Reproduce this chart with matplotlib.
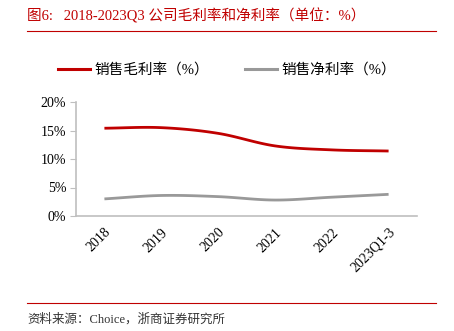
import matplotlib
matplotlib.use("Agg")
import matplotlib.pyplot as plt
import numpy as np
from matplotlib.lines import Line2D

plt.rcParams["font.family"] = ["Liberation Serif", "Noto Sans CJK SC"]

CATEGORIES = ["2018", "2019", "2020", "2021", "2022", "2023Q1-3"]
GROSS_MARGIN = [15.4, 15.5, 14.5, 12.3, 11.6, 11.4]
NET_MARGIN = [3.0, 3.6, 3.4, 2.8, 3.3, 3.8]
Y_TICKS = [0, 5, 10, 15, 20]

RED = "#C00000"
GRAY = "#999999"


def smooth(xs, ys, steps=20):
    # Catmull-Rom curve through the data points, for drawing only
    xs = np.asarray(xs, dtype=float)
    ys = np.asarray(ys, dtype=float)
    px = np.concatenate([[2 * xs[0] - xs[1]], xs, [2 * xs[-1] - xs[-2]]])
    py = np.concatenate([[2 * ys[0] - ys[1]], ys, [2 * ys[-1] - ys[-2]]])
    out_x, out_y = [], []
    t = np.linspace(0, 1, steps, endpoint=False)
    for i in range(1, len(px) - 2):
        for p, out in ((px, out_x), (py, out_y)):
            p0, p1, p2, p3 = p[i - 1], p[i], p[i + 1], p[i + 2]
            out.extend(0.5 * ((2 * p1) + (-p0 + p2) * t
                              + (2 * p0 - 5 * p1 + 4 * p2 - p3) * t ** 2
                              + (-p0 + 3 * p1 - 3 * p2 + p3) * t ** 3))
    out_x.append(xs[-1])
    out_y.append(ys[-1])
    return out_x, out_y


fig = plt.figure(figsize=(4.54, 3.31), dpi=100)
ax = fig.add_axes([76 / 454, 1 - 216 / 331, (417 - 76) / 454, (216 - 102) / 331])

x = np.arange(len(CATEGORIES))
ax.plot(*smooth(x, GROSS_MARGIN), color=RED, lw=2.0, solid_capstyle="butt")
ax.plot(*smooth(x, NET_MARGIN), color=GRAY, lw=2.0, solid_capstyle="butt")

ax.set_xlim(-0.5, len(CATEGORIES) - 0.5)
ax.set_ylim(0, 20)
ax.set_yticks(Y_TICKS)
ax.set_yticklabels([f"{v}%" for v in Y_TICKS], fontsize=10)
ax.set_xticks(x)
ax.set_xticklabels(CATEGORIES, rotation=45, ha="right", rotation_mode="anchor", fontsize=10)
ax.tick_params(axis="x", length=0, pad=7)
ax.tick_params(axis="y", length=4, color="#BFBFBF", pad=3)
for side in ("top", "right"):
    ax.spines[side].set_visible(False)
for side in ("left", "bottom"):
    ax.spines[side].set_color("#BFBFBF")
    ax.spines[side].set_linewidth(1.2)

handles = [Line2D([], [], color=RED, lw=2.2), Line2D([], [], color=GRAY, lw=2.2)]
fig.legend(handles, ["销售毛利率（%）", "销售净利率（%）"], loc="center",
           bbox_to_anchor=(0.5, 1 - 70 / 331), ncol=2, frameon=False,
           fontsize=10.5, handlelength=2.2, handletextpad=0.3, columnspacing=2.5)

fig.text(27 / 454, 1 - 16 / 331, "图6:   2018-2023Q3 公司毛利率和净利率（单位：%）",
         color=RED, fontsize=10.5, va="center", ha="left")
fig.add_artist(Line2D([27 / 454, 436 / 454], [1 - 31 / 331] * 2, color=RED, lw=0.8))
fig.add_artist(Line2D([27 / 454, 436 / 454], [1 - 303 / 331] * 2, color=RED, lw=0.8))
fig.text(27 / 454, 1 - 319 / 331, "资料来源：Choice，浙商证券研究所",
         color="#333333", fontsize=9, va="center", ha="left")

fig.savefig("out.png", dpi=100)
